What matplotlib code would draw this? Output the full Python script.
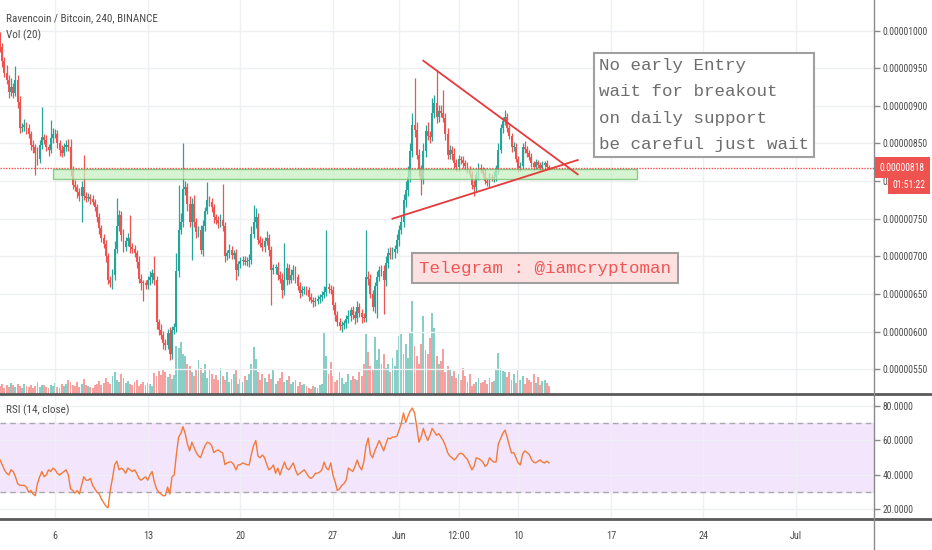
import datetime as dt
import matplotlib
matplotlib.use('Agg')
import matplotlib.pyplot as plt
import matplotlib.dates as mdates
import matplotlib.transforms as mtransforms
from matplotlib.patches import Rectangle
from matplotlib.lines import Line2D

# 4h candles, prices in satoshi (1e-8 BTC)
t0 = dt.datetime(2019, 5, 1, 20, 0)
bar = dt.timedelta(hours=4)

first_open = 990
closes = [
    978, 960, 944, 935, 918, 925, 917, 935, 905, 870,
    872, 875, 870, 862, 848, 845, 838, 830, 848, 858,
    855, 845, 842, 857, 862, 863, 850, 842, 838, 845,
    848, 846, 815, 795, 792, 785, 780, 792, 780, 778,
    779, 776, 772, 765, 752, 738, 725, 716, 700, 668,
    665, 675, 710, 740, 755, 728, 712, 720, 725, 712,
    710, 705, 692, 670, 665, 664, 662, 668, 672, 678,
    668, 612, 602, 595, 585, 582, 598, 570, 602, 606,
    680, 735, 745, 790, 792, 770, 745, 770, 745, 732,
    735, 708, 740, 760, 775, 772, 765, 752, 748, 744,
    748, 740, 700, 704, 708, 702, 704, 682, 690, 694,
    695, 693, 694, 695, 730, 745, 752, 722, 718, 712,
    720, 725, 708, 682, 685, 686, 675, 670, 655, 668,
    685, 668, 675, 682, 672, 660, 651, 655, 656, 655,
    646, 642, 639, 641, 643, 646, 648, 652, 659, 657,
    655, 635, 622, 612, 608, 609, 611, 616, 620, 628,
    622, 618, 632, 625, 619, 618, 672, 670, 650, 632,
    660, 672, 682, 680, 668, 691, 705, 702, 706, 710,
    722, 735, 745, 775, 788, 805, 840, 875, 868, 835,
    815, 802, 840, 866, 860, 858, 890, 904, 885, 893,
    890, 884, 862, 835, 842, 836, 824, 819, 830, 828,
    824, 820, 815, 810, 795, 792, 808, 818, 815, 811,
    800, 798, 805, 804, 806, 815, 842, 870, 880, 885,
    870, 860, 845, 846, 830, 818, 820, 845, 843, 838,
    832, 824, 819, 825, 822, 818, 822, 824, 819, 818,
]
hi_wick = [
    8, 6, 5, 10, 6, 12, 5, 18, 6, 8,
    5, 8, 4, 6, 5, 6, 4, 8, 6, 40,
    5, 6, 4, 24, 8, 6, 5, 4, 6, 5,
    6, 8, 10, 5, 6, 4, 6, 8, 43, 6,
    5, 4, 6, 4, 5, 6, 4, 5, 6, 5,
    6, 8, 10, 38, 6, 5, 8, 6, 6, 30,
    6, 5, 4, 8, 6, 4, 5, 6, 8, 5,
    23, 6, 5, 8, 6, 5, 6, 8, 6, 5,
    25, 60, 12, 60, 8, 6, 10, 8, 12, 6,
    5, 6, 8, 6, 24, 5, 6, 5, 4, 6,
    8, 48, 6, 5, 8, 6, 5, 6, 4, 5,
    5, 6, 5, 8, 10, 23, 12, 6, 5, 6,
    6, 8, 5, 6, 5, 4, 6, 5, 8, 50,
    6, 5, 8, 6, 5, 4, 6, 5, 4, 5,
    4, 5, 4, 5, 6, 4, 6, 8, 76, 6,
    5, 6, 4, 5, 6, 5, 4, 6, 8, 5,
    6, 5, 8, 6, 5, 6, 63, 8, 6, 5,
    6, 8, 5, 6, 8, 10, 6, 8, 6, 5,
    8, 6, 10, 8, 12, 15, 10, 15, 62, 10,
    8, 6, 10, 8, 12, 6, 20, 10, 44, 8,
    8, 31, 6, 8, 6, 5, 8, 6, 5, 4,
    5, 4, 6, 5, 4, 6, 5, 6, 5, 4,
    5, 4, 6, 5, 8, 6, 8, 6, 5, 9,
    6, 5, 4, 6, 5, 4, 6, 5, 8, 4,
    4, 6, 3, 4, 3, 4, 5, 3, 4, 3,
]
lo_wick = [
    6, 8, 5, 6, 8, 5, 6, 4, 8, 6,
    5, 6, 8, 5, 6, 8, 30, 8, 6, 5,
    6, 5, 8, 4, 6, 5, 6, 8, 6, 5,
    5, 6, 8, 6, 5, 8, 6, 34, 5, 6,
    5, 6, 4, 5, 6, 8, 6, 5, 8, 5,
    6, 8, 6, 5, 6, 8, 6, 5, 6, 8,
    5, 6, 8, 6, 10, 24, 6, 5, 6, 8,
    6, 8, 6, 5, 8, 6, 5, 8, 6, 5,
    6, 8, 5, 6, 8, 10, 6, 50, 6, 8,
    6, 5, 8, 6, 4, 5, 6, 8, 5, 6,
    5, 6, 8, 5, 6, 5, 6, 14, 8, 6,
    6, 5, 6, 8, 5, 6, 8, 5, 6, 5,
    6, 5, 8, 47, 5, 8, 6, 5, 10, 6,
    6, 5, 4, 6, 8, 5, 6, 4, 5, 6,
    5, 4, 6, 5, 4, 5, 6, 4, 5, 6,
    5, 6, 8, 5, 6, 8, 5, 6, 5, 6,
    6, 8, 5, 6, 8, 5, 6, 8, 6, 5,
    8, 42, 5, 6, 45, 8, 6, 5, 6, 8,
    6, 8, 5, 6, 10, 8, 6, 8, 10, 6,
    8, 21, 6, 8, 6, 8, 5, 6, 8, 6,
    5, 6, 8, 5, 6, 8, 6, 5, 6, 5,
    6, 5, 4, 5, 6, 12, 5, 6, 4, 5,
    4, 5, 6, 4, 5, 6, 5, 4, 6, 5,
    5, 4, 6, 5, 4, 6, 5, 4, 5, 6,
    4, 5, 4, 3, 4, 5, 4, 3, 4, 3,
]
volume = [
    8, 10, 6, 9, 7, 11, 9, 7, 10, 8,
    6, 10, 8, 7, 9, 6, 8, 12, 7, 9,
    9, 7, 6, 9, 8, 11, 7, 6, 10, 8,
    10, 14, 12, 9, 8, 12, 7, 10, 15, 9,
    8, 7, 6, 9, 10, 13, 9, 11, 16, 12,
    10, 18, 22, 14, 12, 20, 16, 11, 13, 10,
    9, 12, 14, 8, 10, 12, 9, 11, 10, 8,
    21, 18, 23, 19, 24, 22, 17, 20, 15, 19,
    48, 46, 52, 40, 38, 30, 28, 22, 18, 25,
    34, 26, 21, 30, 16, 24, 20, 15, 19, 14,
    26, 18, 14, 22, 12, 15, 20, 25, 10, 15,
    12, 18, 14, 20, 30, 47, 35, 22, 14, 20,
    16, 12, 20, 15, 24, 10, 13, 16, 22, 12,
    14, 18, 10, 12, 14, 8, 12, 9, 10, 8,
    6, 5, 8, 7, 6, 9, 10, 62, 38, 20,
    32, 18, 12, 14, 22, 16, 10, 12, 20, 14,
    18, 15, 14, 22, 18, 30, 60, 42, 28, 25,
    57, 34, 45, 30, 40, 26, 30, 22, 36, 28,
    44, 58, 60, 40, 50, 36, 62, 93, 48, 38,
    30, 50, 78, 44, 40, 56, 81, 66, 38, 30,
    33, 45, 22, 28, 24, 18, 23, 16, 20, 14,
    26, 18, 12, 20, 8, 10, 12, 16, 11, 12,
    14, 10, 16, 12, 13, 24, 41, 26, 23, 22,
    17, 22, 14, 20, 11, 25, 14, 18, 10, 16,
    14, 12, 20, 11, 17, 9, 13, 14, 11, 8,
]
rsi = [
    48.7, 46, 43, 41, 40, 43, 42, 39, 35, 34,
    34, 34, 33, 30, 31, 29, 28, 35, 39, 42,
    39, 40, 43, 42, 44, 43, 41, 40, 41, 42,
    43, 40, 32, 31, 29.5, 31, 29, 34, 39, 37,
    37, 38, 34, 32, 30, 29, 26, 24, 22, 21,
    31, 38, 46, 48, 43, 44, 43, 41, 44, 43,
    42, 43, 41, 38, 37, 38, 39, 37, 40, 42,
    36, 32, 30, 29, 28, 28, 33, 29, 39, 40,
    52, 62, 64, 68, 64, 58, 54, 59, 56, 53,
    51, 50, 54, 57, 59, 58.5, 57, 53, 54, 54.5,
    53.5, 52.7, 46, 47, 47.5, 47.5, 46, 43, 45.8, 46,
    47, 46.5, 46, 45.8, 52, 57, 60, 51, 50, 51.6,
    50, 46, 43, 44, 45.8, 41, 44, 40, 44, 47.5,
    44, 43, 45, 47, 43, 40, 41, 42, 43, 41,
    39, 38, 39, 41, 41, 41.7, 43, 47.5, 44, 43,
    47, 40, 36, 31, 32, 34, 35, 37, 44, 43,
    42, 45, 48.7, 45, 43, 47.5, 57, 61.4, 52, 50,
    54, 57, 60, 57, 54, 58, 61.4, 61, 62, 62,
    62.5, 66, 70, 76, 70.5, 74, 77, 78.8, 76, 68,
    59, 62, 67, 63, 60, 63, 67, 65, 63, 64,
    62, 60, 57, 53, 51, 50, 48.7, 50, 52, 52.7,
    52, 50.4, 49, 46, 43, 45, 50, 49.5, 48.7, 47.5,
    45, 46, 50, 48.5, 47.5, 47.5, 58, 61, 64, 66,
    62, 57, 52.7, 53, 50, 47, 45.8, 52, 54, 53,
    52, 49, 47.5, 47, 48, 48.7, 47.5, 47, 48, 47,
]

last_price = 818
price_ticks = [550, 600, 650, 700, 750, 800, 850, 900, 950, 1000]
rsi_ticks = [20, 40, 60, 80]
date_ticks = [dt.datetime(2019, 5, 6), dt.datetime(2019, 5, 13), dt.datetime(2019, 5, 20),
              dt.datetime(2019, 5, 27), dt.datetime(2019, 6, 1), dt.datetime(2019, 6, 5, 12),
              dt.datetime(2019, 6, 10), dt.datetime(2019, 6, 17), dt.datetime(2019, 6, 24),
              dt.datetime(2019, 7, 1)]
date_labels = ['6', '13', '20', '27', 'Jun', '12:00', '10', '17', '24', 'Jul']

# drawings
zone_start, zone_end = dt.datetime(2019, 5, 5, 20), dt.datetime(2019, 6, 19, 0)
zone_low, zone_high = 803, 816
upper_line_t = [dt.datetime(2019, 6, 2, 20), dt.datetime(2019, 6, 14, 12)]
upper_line_p = [960, 809]
lower_line_t = [dt.datetime(2019, 5, 31, 12), dt.datetime(2019, 6, 14, 12)]
lower_line_p = [750, 828]

UP = '#26a69a'
DOWN = '#ef5350'
NARROW = ['Liberation Sans Narrow', 'Roboto Condensed', 'Roboto']
MONO = ['Liberation Mono', 'DejaVu Sans Mono']
GRID = '#eef0f4'
LBL = '#4b4b4b'

n = len(closes)
times = [t0 + k * bar for k in range(n)]
x = mdates.date2num(times)
opens = [first_open] + closes[:-1]
highs = [max(o, c) + h for o, c, h in zip(opens, closes, hi_wick)]
lows = [min(o, c) - l for o, c, l in zip(opens, closes, lo_wick)]
cols = [UP if c >= o else DOWN for o, c in zip(opens, closes)]
w = 4 / 24 * 0.85

fig = plt.figure(figsize=(9.32, 5.5), dpi=100)
fig.patch.set_facecolor('white')
ax = fig.add_axes([0, 0.2836, 0.9378, 0.7164])
ax_rsi = fig.add_axes([0, 0.0564, 0.9378, 0.2255], sharex=ax)
axv = ax.twinx()
ax.set_zorder(axv.get_zorder() + 1)
ax.patch.set_visible(False)

# volume
axv.bar(x, volume, width=4 / 24 * 0.85, color=cols, alpha=0.55, linewidth=0)
axv.set_ylim(0, 394)
axv.axis('off')

# candles
ax.vlines(x, lows, highs, colors=cols, linewidth=0.9, zorder=3)
ax.bar(x, [max(abs(c - o), 1.2) for o, c in zip(opens, closes)],
       bottom=[min(o, c) for o, c in zip(opens, closes)],
       width=w, color=cols, linewidth=0, zorder=4)

ax.add_patch(Rectangle((mdates.date2num(zone_start), zone_low),
                       mdates.date2num(zone_end) - mdates.date2num(zone_start),
                       zone_high - zone_low, facecolor='#c9efc3', edgecolor='#69bf66',
                       alpha=0.75, linewidth=1, zorder=5))
ax.axhline(last_price, color=DOWN, linestyle=(0, (1, 1)), linewidth=1, zorder=5)
ax.plot(upper_line_t, upper_line_p, color='#e8393b', linewidth=1.3, zorder=6)
ax.plot(lower_line_t, lower_line_p, color='#e8393b', linewidth=1.3, zorder=6)

ax.text(0.8055, 0.7335, "No early Entry\nwait for breakout\non daily support\nbe careful just wait",
        transform=ax.transAxes, ha='center', va='center', multialignment='left',
        fontsize=12.6, family=MONO, color='#6d6d6d', linespacing=1.95, zorder=8,
        bbox=dict(boxstyle='square,pad=0.3', facecolor='white', edgecolor='#a0a0a0', linewidth=1.5))
ax.text(0.6236, 0.3198, "Telegram : @iamcryptoman", transform=ax.transAxes, ha='center',
        va='center', fontsize=12.6, family=MONO, color='#f05555', zorder=8,
        bbox=dict(boxstyle='square,pad=0.42', facecolor='#fde1e1', edgecolor='#a0a0a0', linewidth=1.5))

ax.set_xlim(x[0], x[0] + 396.4 / 6)
ax.set_ylim(516.9, 1040.8)
ax.yaxis.tick_right()
ax.set_yticks(price_ticks)
ax.set_yticklabels(['%.8f' % (p * 1e-8) for p in price_ticks])
ax.set_xticks(mdates.date2num(date_ticks))
ax.tick_params(axis='x', bottom=False, labelbottom=False)
ax.tick_params(axis='y', direction='out', length=4, width=1, color='#8a8a8a',
               labelsize=6.9, labelcolor=LBL, pad=2)
for lab in ax.get_yticklabels():
    lab.set_family(NARROW)
ax.grid(True, color=GRID, linewidth=1)
ax.set_axisbelow(True)
for s in ['top', 'left', 'bottom', 'right']:
    ax.spines[s].set_visible(False)

blend = mtransforms.blended_transform_factory(ax.transAxes, ax.transData)
ax.text(1.006, last_price, "0.00000818", transform=blend, ha='left', va='center',
        fontsize=6.9, family=NARROW, color='white', clip_on=False, zorder=10,
        bbox=dict(boxstyle='square,pad=0.55', facecolor=DOWN, edgecolor='none'))
ax.text(1.021, 795, "01:51:22", transform=blend, ha='left', va='center',
        fontsize=6.9, family=NARROW, color='white', clip_on=False, zorder=10,
        bbox=dict(boxstyle='square,pad=0.45', facecolor=DOWN, edgecolor='none'))

# RSI pane
ax_rsi.axhspan(30, 70, color='#f3e6fc', zorder=0)
ax_rsi.axhline(70, color='#a9a9a9', linestyle=(0, (4, 3)), linewidth=1)
ax_rsi.axhline(30, color='#a9a9a9', linestyle=(0, (4, 3)), linewidth=1)
ax_rsi.plot(x, rsi, color='#f27a3a', linewidth=1)
ax_rsi.set_ylim(14.5, 86.4)
ax_rsi.yaxis.tick_right()
ax_rsi.set_yticks(rsi_ticks)
ax_rsi.set_yticklabels(['%.4f' % v for v in rsi_ticks])
ax_rsi.set_xticks(mdates.date2num(date_ticks))
ax_rsi.set_xticklabels(date_labels)
ax_rsi.tick_params(axis='y', direction='out', length=4, width=1, color='#8a8a8a',
                   labelsize=6.9, labelcolor=LBL, pad=2)
ax_rsi.tick_params(axis='x', direction='out', length=0, labelsize=7.4, labelcolor=LBL, pad=9)
for lab in ax_rsi.get_yticklabels() + ax_rsi.get_xticklabels():
    lab.set_family(NARROW)
ax_rsi.grid(True, color=GRID, linewidth=1)
ax_rsi.set_axisbelow(True)
for s in ['top', 'left', 'bottom', 'right']:
    ax_rsi.spines[s].set_visible(False)

# pane separators and price scale border
fig.add_artist(Line2D([0, 1], [0.2836, 0.2836], color='#5a5a5a', linewidth=2))
fig.add_artist(Line2D([0, 1], [0.0564, 0.0564], color='#5a5a5a', linewidth=2))
fig.add_artist(Line2D([0.9378, 0.9378], [0, 1], color='#8a8a8a', linewidth=1))

fig.text(6 / 932, 1 - 18 / 550, "Ravencoin / Bitcoin, 240, BINANCE", fontsize=8,
         family=NARROW, color=LBL, va='center')
fig.text(6 / 932, 1 - 35 / 550, "Vol (20)", fontsize=8, family=NARROW, color=LBL, va='center')
fig.text(6 / 932, 1 - 410 / 550, "RSI (14, close)", fontsize=8, family=NARROW, color=LBL,
         va='center')

fig.savefig('out.png', dpi=100, facecolor='white')
